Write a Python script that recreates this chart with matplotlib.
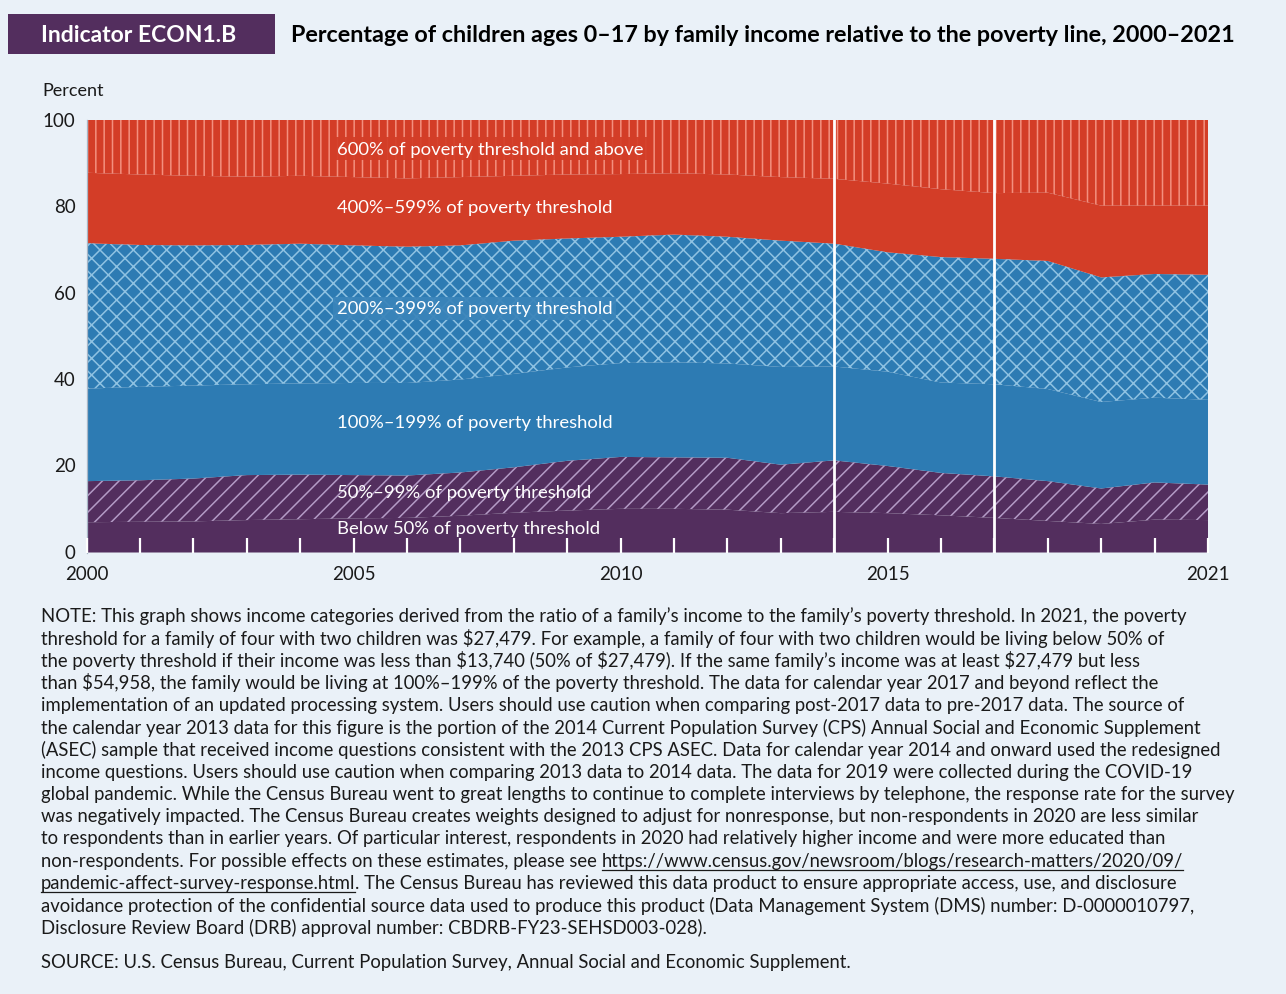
import matplotlib
matplotlib.use("Agg")
import matplotlib.pyplot as plt
import numpy as np
from matplotlib.patches import Rectangle
from matplotlib.lines import Line2D

plt.rcParams['font.family'] = ['Lato', 'DejaVu Sans']
plt.rcParams['hatch.linewidth'] = 1.1

# ---------------- data ----------------
years = list(range(2000, 2022))
below_50 = [7.0, 7.1, 7.2, 7.5, 7.7, 7.9, 8.0, 8.5, 9.2, 9.7, 10.1, 10.1, 9.9, 9.1, 9.4, 9.1, 8.6, 8.0, 7.3, 6.6, 7.6, 7.5]
p50_99 = [9.5, 9.6, 9.9, 10.4, 10.3, 10.0, 9.8, 10.0, 10.5, 11.5, 12.0, 11.9, 12.0, 11.2, 11.9, 10.9, 9.8, 9.6, 9.2, 8.2, 8.6, 8.2]
p100_199 = [21.4, 21.6, 21.5, 21.0, 21.1, 21.3, 21.4, 21.5, 21.6, 21.6, 21.7, 22.0, 21.8, 22.6, 21.7, 21.8, 20.9, 21.3, 21.3, 20.0, 19.6, 19.6]
p200_399 = [33.6, 32.8, 32.4, 32.2, 32.3, 31.8, 31.5, 31.0, 30.8, 29.8, 29.2, 29.5, 29.3, 29.2, 28.4, 27.6, 29.0, 29.0, 29.6, 28.8, 28.6, 28.9]
p400_599 = [16.3, 16.3, 16.1, 15.8, 15.7, 15.8, 15.8, 15.8, 15.0, 14.8, 14.5, 14.2, 14.4, 14.7, 15.0, 15.9, 15.7, 15.2, 15.8, 16.6, 15.8, 16.0]
p600_up = [12.2, 12.6, 12.9, 13.1, 12.9, 13.2, 13.5, 13.2, 12.9, 12.6, 12.5, 12.3, 12.6, 13.2, 13.6, 14.7, 16.0, 16.9, 16.8, 19.8, 19.8, 19.8]

series_labels = ["Below 50% of poverty threshold",
                 "50%\u201399% of poverty threshold",
                 "100%\u2013199% of poverty threshold",
                 "200%\u2013399% of poverty threshold",
                 "400%\u2013599% of poverty threshold",
                 "600% of poverty threshold and above"]
break_years = [2014, 2017]
labeled_years = [2000, 2005, 2010, 2015, 2021]
y_ticks = [0, 20, 40, 60, 80, 100]

# ---------------- styles ----------------
BG = '#EAF1F8'
PURPLE = '#532E5E'
BLUE = '#2D7BB3'
RED = '#D33D27'
face_cols = [PURPLE, PURPLE, BLUE, BLUE, RED, RED]
hatch_cols = [None, '#B49BC6', None, '#8FC2E2', None, '#F3907F']
hatches = [None, '//', None, 'xx', None, '||']

W, H = 1286, 995
DPI = 100
fig = plt.figure(figsize=(W / DPI, H / DPI), dpi=DPI, facecolor=BG)


def fx(px):
    return px / W


def fy(py):
    return 1 - py / H


ax_left, ax_right, ax_top, ax_bot = 86.7, 1208, 121, 553.5
ax = fig.add_axes([fx(ax_left), fy(ax_bot), fx(ax_right - ax_left), (ax_bot - ax_top) / H])
ax.set_facecolor(BG)

data = np.array([below_50, p50_99, p100_199, p200_399, p400_599, p600_up])
cum = np.vstack([np.zeros(len(years)), np.cumsum(data, axis=0)])
x = np.array(years)
for i in range(6):
    ax.fill_between(x, cum[i], cum[i + 1], facecolor=face_cols[i], linewidth=0, zorder=1)
    if hatches[i]:
        ax.fill_between(x, cum[i], cum[i + 1], facecolor='none', edgecolor=hatch_cols[i],
                        hatch=hatches[i], linewidth=0, zorder=1.2)

for by in break_years:
    ax.axvline(by, color='white', lw=2.0, zorder=3)

ax.set_xlim(2000, 2021)
ax.set_ylim(0, 100)
ax.set_xticks(years)
ax.set_xticklabels([str(y) if y in labeled_years else '' for y in years])
ax.set_yticks(y_ticks)
ax.tick_params(axis='x', direction='in', length=11, width=1.6, color='white', pad=9,
               labelsize=13.5, labelcolor='#1a1a1a')
ax.tick_params(axis='y', length=0, pad=8, labelsize=13.5, labelcolor='#1a1a1a')
for t in ax.get_yticklabels():
    t.set_verticalalignment('center')
for s in ['top', 'right', 'bottom']:
    ax.spines[s].set_visible(False)
ax.spines['left'].set_color('#A8B6C6')
ax.spines['left'].set_linewidth(0.9)
ax.set_axisbelow(False)

# in-area labels
lab_x = 2000 + (337 - ax_left) / ((ax_right - ax_left) / 21)
lab_y = [5.7, 14.0, 30.2, 56.5, 79.9, 93.3]
bbox_cols = [None, None, None, '#3A84BA', None, RED]
for i in range(6):
    kw = {}
    if bbox_cols[i]:
        kw['bbox'] = dict(facecolor=bbox_cols[i], edgecolor='none', pad=2.5, alpha=0.92)
    ax.text(lab_x, lab_y[i], series_labels[i], color='white', fontsize=13.3,
            ha='left', va='center', zorder=4, **kw)

# header
fig.patches.append(Rectangle((fx(8), fy(55)), fx(267), 40 / H, transform=fig.transFigure,
                             facecolor=PURPLE, edgecolor='none'))
fig.text(fx(139), fy(35), "Indicator ECON1.B", color='white', fontsize=16.5,
         fontweight='bold', ha='center', va='center')
fig.text(fx(291), fy(35), "Percentage of children ages 0\u201317 by family income relative to the poverty line, 2000\u20132021",
         color='black', fontsize=16.8, fontweight='bold', ha='left', va='center')
fig.text(fx(42), fy(91), "Percent", fontsize=13, ha='left', va='center', color='#1a1a1a')

# notes
note_lines = [
    "NOTE: This graph shows income categories derived from the ratio of a family\u2019s income to the family\u2019s poverty threshold. In 2021, the poverty",
    "threshold for a family of four with two children was $27,479. For example, a family of four with two children would be living below 50% of",
    "the poverty threshold if their income was less than $13,740 (50% of $27,479). If the same family\u2019s income was at least $27,479 but less",
    "than $54,958, the family would be living at 100%\u2013199% of the poverty threshold. The data for calendar year 2017 and beyond reflect the",
    "implementation of an updated processing system. Users should use caution when comparing post-2017 data to pre-2017 data. The source of",
    "the calendar year 2013 data for this figure is the portion of the 2014 Current Population Survey (CPS) Annual Social and Economic Supplement",
    "(ASEC) sample that received income questions consistent with the 2013 CPS ASEC. Data for calendar year 2014 and onward used the redesigned",
    "income questions. Users should use caution when comparing 2013 data to 2014 data. The data for 2019 were collected during the COVID-19",
    "global pandemic. While the Census Bureau went to great lengths to continue to complete interviews by telephone, the response rate for the survey",
    "was negatively impacted. The Census Bureau creates weights designed to adjust for nonresponse, but non-respondents in 2020 are less similar",
    "to respondents than in earlier years. Of particular interest, respondents in 2020 had relatively higher income and were more educated than",
]
url1 = "https://www.census.gov/newsroom/blogs/research-matters/2020/09/"
url2 = "pandemic-affect-survey-response.html"
pre12 = "non-respondents. For possible effects on these estimates, please see "
post13 = ". The Census Bureau has reviewed this data product to ensure appropriate access, use, and disclosure"
tail_lines = [
    "avoidance protection of the confidential source data used to produce this product (Data Management System (DMS) number: D-0000010797,",
    "Disclosure Review Board (DRB) approval number: CBDRB-FY23-SEHSD003-028).",
]
source_text = "SOURCE: U.S. Census Bureau, Current Population Survey, Annual Social and Economic Supplement."

NFS = 13.35
LS = 22.3
y0 = 616
tc = '#1a1a1a'
for k, line in enumerate(note_lines):
    fig.text(fx(41), fy(y0 + k * LS), line, fontsize=NFS, ha='left', va='center', color=tc, parse_math=False)

fig.canvas.draw()
r = fig.canvas.get_renderer()
yl12 = y0 + 11 * LS
t_pre = fig.text(fx(41), fy(yl12), pre12, fontsize=NFS, ha='left', va='center', color=tc, parse_math=False)
bb = t_pre.get_window_extent(r)
t_u1 = fig.text(bb.x1 / W, fy(yl12), url1, fontsize=NFS, ha='left', va='center', color=tc, parse_math=False)
bb1 = t_u1.get_window_extent(r)
yl13 = y0 + 12 * LS
t_u2 = fig.text(fx(41), fy(yl13), url2, fontsize=NFS, ha='left', va='center', color=tc, parse_math=False)
bb2 = t_u2.get_window_extent(r)
fig.text(bb2.x1 / W, fy(yl13), post13, fontsize=NFS, ha='left', va='center', color=tc, parse_math=False)
for b, yy in [(bb1, yl12), (bb2, yl13)]:
    ly = fy(yy + 9.5)
    fig.lines.append(Line2D([b.x0 / W, b.x1 / W], [ly, ly], transform=fig.transFigure, color=tc, lw=0.9))
for k, line in enumerate(tail_lines):
    fig.text(fx(41), fy(y0 + (13 + k) * LS), line, fontsize=NFS, ha='left', va='center', color=tc, parse_math=False)
fig.text(fx(41), fy(963), source_text, fontsize=NFS, ha='left', va='center', color=tc, parse_math=False)

fig.savefig("out.png", dpi=DPI, facecolor=BG)
